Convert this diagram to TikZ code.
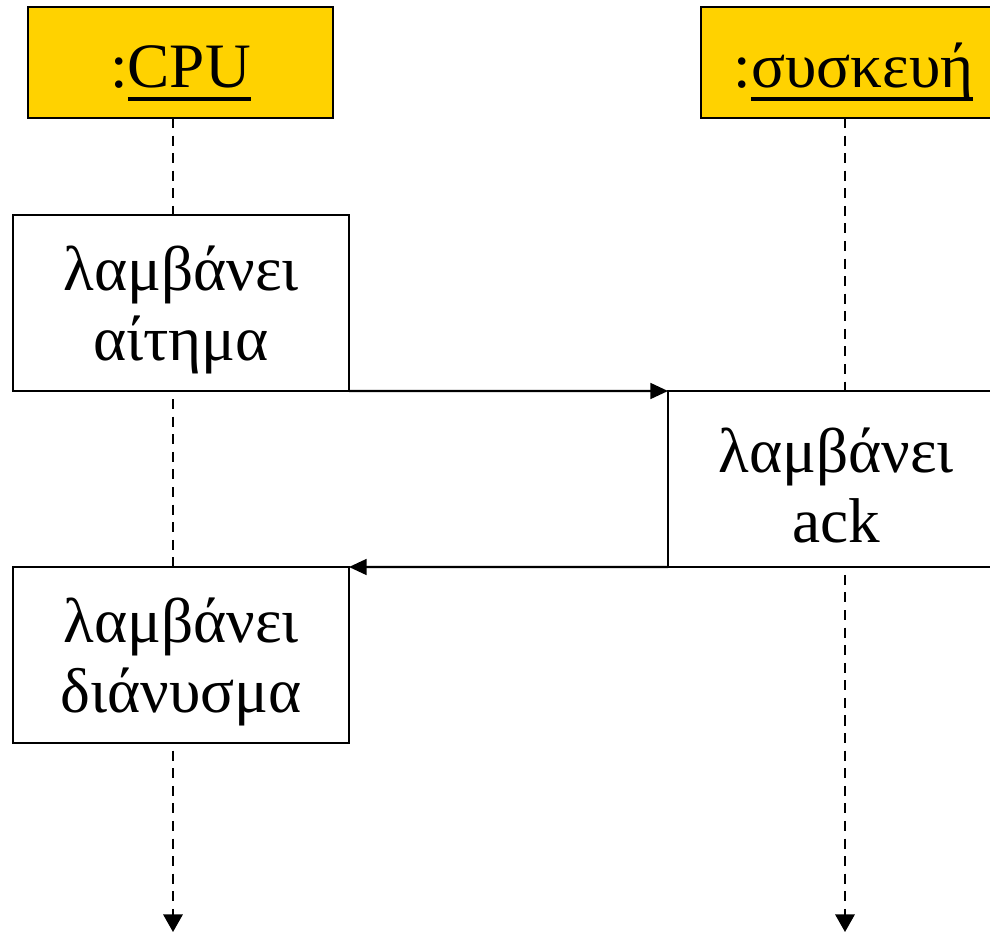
\documentclass[tikz,border=0pt]{standalone}
\usepackage{fontspec}
\setmainfont{Liberation Serif}
\usetikzlibrary{arrows.meta}
\definecolor{hdryellow}{RGB}{255,210,0}
\newcommand{\objname}[1]{\setbox0\hbox{#1}\rlap{#1}\smash{\rule[-7.4pt]{\wd0}{2.4pt}}}
\newcommand{\topstrut}{\rule{0pt}{33pt}}
\begin{document}
\begin{tikzpicture}[
    hdr/.style={draw, line width=1.2pt, fill=hdryellow, minimum width=6.1cm, minimum height=2.22cm, inner sep=0pt, outer sep=0pt,
      text height=29pt, text depth=0pt, font=\fontsize{36}{40}\selectfont},
    act/.style={draw, line width=1.2pt, fill=white, minimum width=6.72cm, minimum height=3.52cm, align=center, inner sep=0pt, outer sep=0pt,
      font=\fontsize{36}{40}\selectfont},
    life/.style={line width=1.2pt, dash pattern=on 5.7pt off 4.3pt, -{Triangle[length=10pt,width=11pt]}},
    msg/.style={line width=1.2pt, -{Triangle[length=10pt,width=9pt]}},
]
\useasboundingbox (0,0) rectangle (19.8,-18.64);

% objects
\node[hdr] (cpu) at (3.61,-1.25) {:\objname{CPU}};
\node[hdr] (dev) at (17.07,-1.25) {:\objname{συσκευή}};

% lifelines
\coordinate (cpuEnd) at (3.46,-18.64);
\coordinate (devEnd) at (16.9,-18.64);
\draw[life] (cpu.south -| cpuEnd) -- (cpuEnd);
\draw[life] (dev.south -| devEnd) -- (devEnd);

% activations
\node[act] (req) at (3.62,-6.06) {\topstrut λαμβάνει\\αίτημα};
\node[act] (ack) at (16.72,-9.58) {\topstrut λαμβάνει\\ack};
\node[act] (vec) at (3.62,-13.1) {\topstrut λαμβάνει\\διάνυσμα};

% messages
\draw[msg] (req.south east) -- (ack.north west);
\draw[msg] (ack.south west) -- (vec.north east);

\end{tikzpicture}
\end{document}
